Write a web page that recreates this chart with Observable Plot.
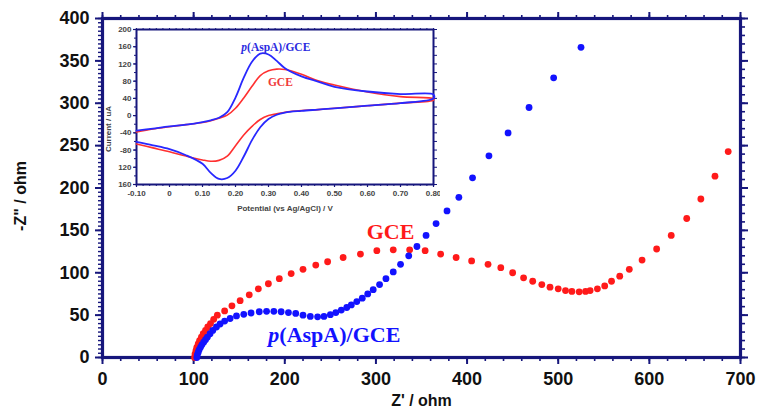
<!DOCTYPE html>
<html><head><meta charset="utf-8">
<script src="https://cdn.jsdelivr.net/npm/d3@7"></script>
<script src="https://cdn.jsdelivr.net/npm/@observablehq/plot@0.6"></script>
<style>
html,body{margin:0;padding:0;background:#fff;}
#wrap{position:relative;width:757px;height:419px;overflow:hidden;background:#fff;}
#inset{position:absolute;left:100px;top:20px;}
svg{display:block;}
</style></head><body>
<div id="wrap"><div id="main"></div><div id="inset"></div></div>
<script>
// ---------- Nyquist data (Z' / ohm, -Z'' / ohm) ----------
const gceZre = [101,101.5,102.5,103.5,105,106.5,108.5,110.5,113,115.5,118.5,122,126,134,142,151,161,171,182,194,207,220,234,247,264,283,301,319,337,354,371,388,405,423,437,450,462,472,482,491,500,508,515,523,530,535,543,551,558.5,567.5,578,592,608,624,641,656.5,672,686.5];
const gceZim = [0,4,8,12,16,20,24,28,32,36,40,45,50,55,61,67,74,81,87,93,99,104,109,113,118,122,126,127,127,126,122,118,114,110,106,100,94,90,86,83,81,79,78,77.5,78,79,81,84.5,90,96,104,115,128,144,164,187,214,243];
const aspZre = [103.5,104,105,106,107.5,109,111,113,115,118,121,125,129,134,140,147,155,163,172,180,188,196,204,212,220,228,236,243,250,256,262,268,273,279,285,291,297,304,311,319,327,336,345,355,366,378,391,406,424,445,468,495,525];
const aspZim = [0,3,6,9,12,15,18,21,24,28,32,36,39.5,43,46,49,51,52.5,54,54.5,54.5,54,53,52,50,48.5,48,48.5,50.5,53,56,59,62,66,70,75,80,86,93,101,110,120,131,144,158,173,189,212,238,265,295,330,366];
const mainXTicks = [0,100,200,300,400,500,600,700];
const mainYTicks = [0,50,100,150,200,250,300,350,400];

// ---------- Cyclic voltammetry inset (potential / V, current / uA) ----------
const cvPotential = [-0.10,-0.05,0,0.05,0.10,0.125,0.15,0.175,0.20,0.225,0.25,0.275,0.30,0.325,0.35,0.40,0.45,0.50,0.60,0.70,0.80];
const aspAnodic   = [-35,-30,-25,-21,-15,-11,-5,8,42,88,125,144,142,127,110,91,79,67,56,50,49];
const aspCathodic = [-61,-69,-78,-92,-112,-133,-147,-145,-128,-95,-57,-27,-8,2,7,11,14,17,23,29,40];
const gceAnodic   = [-38,-31,-26,-21,-16,-12,-6,1,17,41,68,93,104,108,107,96,81,71,55,44,39];
const gceCathodic = [-66,-75,-84,-94,-103,-106,-104,-94,-70,-45,-25,-9,0,4,8,12,14,17,23,29,36];
const cvXTicks = [-0.10,0,0.10,0.20,0.30,0.40,0.50,0.60,0.70,0.80];
const cvYTicks = [-160,-120,-80,-40,0,40,80,120,160,200];

const NAVY = "#16167c";
const RED = "#ff1a1a";
const BLUE = "#1212ff";
const SANS = "Arial, 'Liberation Sans', sans-serif";
const SERIF = "'Times New Roman', 'Liberation Serif', serif";

const gceData = gceZre.map((x, i) => ({x, y: gceZim[i]}));
const aspData = aspZre.map((x, i) => ({x, y: aspZim[i]}));
const blank = () => "";

const main = Plot.plot({
  width: 757, height: 419,
  marginLeft: 102, marginRight: 17, marginTop: 18, marginBottom: 62,
  x: {domain: [0, 700]},
  y: {domain: [0, 400]},
  style: {fontFamily: SANS, background: "transparent", color: "#111"},
  marks: [
    // bottom axis
    Plot.axisX({ticks: d3.range(0, 701, 20), tickSize: 4, tickFormat: blank, stroke: NAVY, strokeWidth: 1.6, label: null}),
    Plot.axisX({ticks: mainXTicks, tickSize: 7, tickPadding: 8, stroke: NAVY, strokeWidth: 2, fontSize: 18, fontWeight: "bold", label: null}),
    // top axis
    Plot.axisX({anchor: "top", ticks: d3.range(0, 701, 20), tickSize: 4, tickFormat: blank, stroke: NAVY, strokeWidth: 1.6, label: null}),
    Plot.axisX({anchor: "top", ticks: mainXTicks, tickSize: 7, tickFormat: blank, stroke: NAVY, strokeWidth: 2, label: null}),
    // left axis
    Plot.axisY({ticks: d3.range(0, 401, 5), tickSize: 4, tickFormat: blank, stroke: NAVY, strokeWidth: 1.4, label: null}),
    Plot.axisY({ticks: mainYTicks, tickSize: 7, tickPadding: 6, stroke: NAVY, strokeWidth: 2, fontSize: 18, fontWeight: "bold", label: null}),
    // right axis
    Plot.axisY({anchor: "right", ticks: d3.range(0, 401, 10), tickSize: 4, tickFormat: blank, stroke: NAVY, strokeWidth: 1.6, label: null}),
    Plot.axisY({anchor: "right", ticks: mainYTicks, tickSize: 7, tickFormat: blank, stroke: NAVY, strokeWidth: 2, label: null}),
    Plot.frame({stroke: NAVY, strokeWidth: 3.2}),
    // data
    Plot.dot(gceData, {x: "x", y: "y", r: 3.4, fill: RED, stroke: null}),
    Plot.dot(aspData, {x: "x", y: "y", r: 3.4, fill: BLUE, stroke: null}),
    // labels
    Plot.text(["GCE"], {x: 316, y: 148, fill: RED, fontFamily: SERIF, fontWeight: "bold", fontSize: 22}),
    Plot.text(["p"], {x: 194, y: 27, textAnchor: "end", fill: BLUE, fontFamily: SERIF, fontWeight: "bold", fontStyle: "italic", fontSize: 22}),
    Plot.text(["(AspA)/GCE"], {x: 194, y: 27, textAnchor: "start", fill: BLUE, fontFamily: SERIF, fontWeight: "bold", fontSize: 22}),
    // axis titles
    Plot.text(["Z' / ohm"], {frameAnchor: "bottom", dy: 48, fontSize: 16, fontWeight: "bold", fill: "#111"}),
    Plot.text(['-Z" / ohm'], {frameAnchor: "left", textAnchor: "middle", dx: -82, dy: 8, rotate: -90, fontSize: 16, fontWeight: "bold", fill: "#111"})
  ]
});
document.getElementById("main").appendChild(main);

// ---------- Inset ----------
const cvData = [];
function addLoop(name, anodic, cathodic) {
  cvPotential.forEach((e, i) => cvData.push({e, i: anodic[i], s: name}));
  for (let k = cvPotential.length - 1; k >= 0; k--) cvData.push({e: cvPotential[k], i: cathodic[k], s: name});
}
addLoop("GCE", gceAnodic, gceCathodic);
addLoop("p(AspA)/GCE", aspAnodic, aspCathodic);

const yFmt = d => (d <= -100 ? String(-d) : String(d));
const xFmt = d => (d === 0 ? "0" : d.toFixed(2));

const inset = Plot.plot({
  width: 340, height: 200,
  marginLeft: 36, marginRight: 7, marginTop: 9, marginBottom: 36,
  x: {domain: [-0.10, 0.80]},
  y: {domain: [-160, 200]},
  style: {fontFamily: SANS, background: "transparent", color: "#333"},
  marks: [
    Plot.axisX({ticks: d3.range(-0.10, 0.8001, 0.02), tickSize: 2, tickFormat: blank, stroke: NAVY, strokeWidth: 1, label: null}),
    Plot.axisX({ticks: cvXTicks, tickSize: 3, tickPadding: 3, tickFormat: xFmt, stroke: NAVY, strokeWidth: 1.2, fontSize: 8, fontWeight: "bold", fill: "#444", label: null}),
    Plot.axisX({anchor: "top", ticks: d3.range(-0.10, 0.8001, 0.02), tickSize: 2, tickFormat: blank, stroke: NAVY, strokeWidth: 1, label: null}),
    Plot.axisY({ticks: d3.range(-160, 201, 20), tickSize: 2, tickFormat: blank, stroke: NAVY, strokeWidth: 1, label: null}),
    Plot.axisY({ticks: cvYTicks, tickSize: 3, tickPadding: 2, tickFormat: yFmt, stroke: NAVY, strokeWidth: 1.2, fontSize: 8, fontWeight: "bold", fill: "#444", label: null}),
    Plot.axisY({anchor: "right", ticks: d3.range(-160, 201, 20), tickSize: 3, tickFormat: blank, stroke: NAVY, strokeWidth: 1, label: null}),
    Plot.frame({stroke: NAVY, strokeWidth: 2, fill: "white"}),
    Plot.line(cvData.filter(d => d.s === "GCE"), {x: "e", y: "i", stroke: "#ff3030", strokeWidth: 1.6, curve: "catmull-rom"}),
    Plot.line(cvData.filter(d => d.s !== "GCE"), {x: "e", y: "i", stroke: "#2828ff", strokeWidth: 1.8, curve: "catmull-rom"}),
    Plot.text(["p"], {x: 0.235, y: 158, textAnchor: "end", fill: "#2a2ae0", fontFamily: SERIF, fontWeight: "bold", fontStyle: "italic", fontSize: 11.5}),
    Plot.text(["(AspA)/GCE"], {x: 0.235, y: 158, textAnchor: "start", fill: "#2a2ae0", fontFamily: SERIF, fontWeight: "bold", fontSize: 11.5}),
    Plot.text(["GCE"], {x: 0.336, y: 77, fill: "#f03a3a", fontFamily: SERIF, fontWeight: "bold", fontSize: 11.5}),
    Plot.text(["Potential (vs Ag/AgCl) / V"], {frameAnchor: "bottom", dy: 26, fontSize: 8, fontWeight: "bold", fill: "#444"}),
    Plot.text(["Current / uA"], {frameAnchor: "left", textAnchor: "middle", dx: -28, dy: 22, rotate: -90, fontSize: 8, fontWeight: "bold", fill: "#444"})
  ]
});
document.getElementById("inset").appendChild(inset);
</script>
</body></html>
